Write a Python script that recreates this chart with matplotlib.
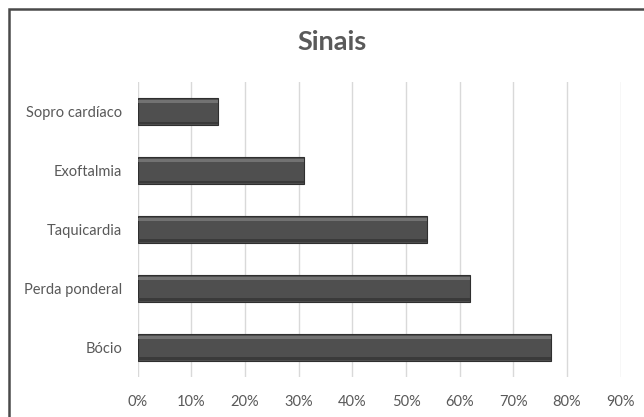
import numpy as np
import matplotlib
matplotlib.use('Agg')
from matplotlib import pyplot as plt
from matplotlib.patches import Rectangle

categories = ['Bócio', 'Perda ponderal', 'Taquicardia', 'Exoftalmia', 'Sopro cardíaco']
values = [0.77, 0.62, 0.54, 0.31, 0.15]
xticks = [0, 0.1, 0.2, 0.3, 0.4, 0.5, 0.6, 0.7, 0.8, 0.9]
xticklabels = ['0%', '10%', '20%', '30%', '40%', '50%', '60%', '70%', '80%', '90%']

plt.rcParams['font.family'] = ['Lato', 'DejaVu Sans']

fig = plt.figure(figsize=(6.44, 4.17), dpi=100)
ax = fig.add_axes([0.2138, 0.0959, 0.75, 0.7074])

y = np.arange(len(categories))
h = 0.47
ax.barh(y, values, height=h, color='#4f4f4f', edgecolor='#2f2f2f', linewidth=0.8, zorder=3)
# bevel: light strip near the top, darker strip at the bottom
ax.barh(y + h * 0.36, values, height=h * 0.1, color='#8a8a8a', linewidth=0, zorder=4, alpha=0.6)
ax.barh(y - h * 0.4, values, height=h * 0.08, color='#3a3a3a', linewidth=0, zorder=4)

ax.set_xlim(0, 0.9)
ax.set_ylim(-0.5, len(categories) - 0.5)
ax.set_xticks(xticks)
ax.set_xticklabels(xticklabels)
ax.set_yticks(y)
ax.set_yticklabels(categories)
ax.grid(axis='x', color='#d9d9d9', linewidth=1, zorder=0)
for s in ax.spines.values():
    s.set_visible(False)
ax.tick_params(axis='both', length=0, labelsize=10.5, labelcolor='#595959')
ax.tick_params(axis='x', pad=13)
ax.tick_params(axis='y', pad=11)

fig.text(332 / 644, 1 - 42 / 417, 'Sinais', ha='center', va='center',
         fontsize=19.5, fontweight='bold', color='#595959')

# chart frame (cropped at right/bottom)
fig.patches.append(Rectangle((9 / 644, -0.1), 1.1, 1 - 9 / 417 + 0.1, transform=fig.transFigure,
                             fill=False, edgecolor='#4a4a4a', linewidth=1.8))

fig.savefig('out.png', dpi=100)
